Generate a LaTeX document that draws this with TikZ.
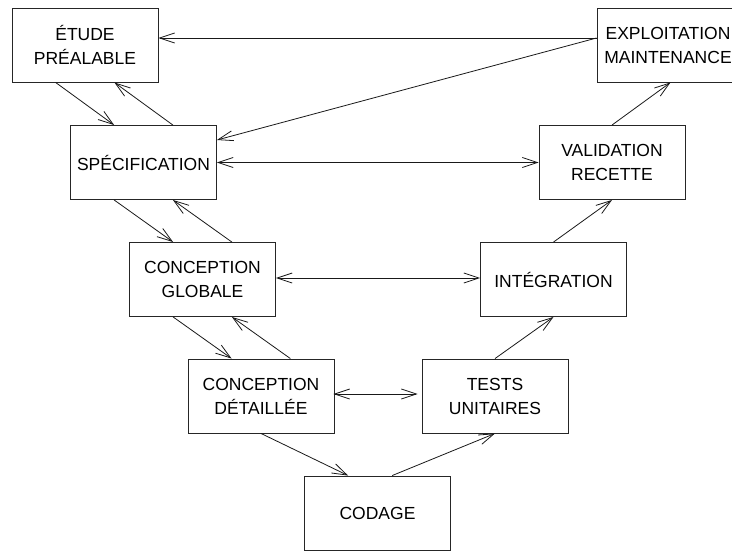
\documentclass[tikz,border=0pt]{standalone}
\usepackage{fontspec}
\setmainfont{Liberation Sans}
\usetikzlibrary{arrows.meta,calc}
\begin{document}
\begin{tikzpicture}[x=1pt,y=-1pt,
  phase/.style={draw=black!85, line width=0.9pt, minimum width=146pt, minimum height=74pt,
    inner sep=0pt, align=center, font=\fontsize{17.5pt}{24pt}\selectfont},
  arr/.style={draw=black!90, line width=0.8pt, -{Straight Barb[length=15pt,width=10pt,line width=0.8pt]}},
  darr/.style={draw=black!90, line width=0.8pt, {Straight Barb[length=15pt,width=10pt,line width=0.8pt]}-{Straight Barb[length=15pt,width=10pt,line width=0.8pt]}}]
\useasboundingbox (0,0) rectangle (732,550);
\node[phase] (etude) at (85,45) {ÉTUDE\\PRÉALABLE};
\node[phase, minimum width=147pt] (expl) at (670.5,45) {\hspace*{-5pt}EXPLOITATION\\\hspace*{-5pt}MAINTENANCE};
\node[phase] (spec) at (143.5,162.5) {SPÉCIFICATION};
\node[phase] (valid) at (612,162.5) {VALIDATION\\RECETTE};
\node[phase] (cglob) at (202.5,279.5) {CONCEPTION\\GLOBALE};
\node[phase] (integ) at (553.5,279.5) {INTÉGRATION};
\node[phase] (cdet) at (261,396) {CONCEPTION\\DÉTAILLÉE};
\node[phase] (tests) at (495,396) {TESTS\\UNITAIRES};
\node[phase] (codage) at (377.5,513) {CODAGE};
% descending side
\draw[arr] ($(etude.south west)!0.3!(etude.south east)$) -- ($(spec.north west)!0.3!(spec.north east)$);
\draw[arr] ($(spec.north west)!0.7!(spec.north east)$) -- ($(etude.south west)!0.7!(etude.south east)$);
\draw[arr] ($(spec.south west)!0.3!(spec.south east)$) -- ($(cglob.north west)!0.3!(cglob.north east)$);
\draw[arr] ($(cglob.north west)!0.7!(cglob.north east)$) -- ($(spec.south west)!0.7!(spec.south east)$);
\draw[arr] ($(cglob.south west)!0.3!(cglob.south east)$) -- ($(cdet.north west)!0.3!(cdet.north east)$);
\draw[arr] ($(cdet.north west)!0.7!(cdet.north east)$) -- ($(cglob.south west)!0.7!(cglob.south east)$);
\draw[arr] (cdet.south) -- ($(codage.north west)!0.3!(codage.north east)$);
% ascending side
\draw[arr] ($(codage.north west)!0.6!(codage.north east)$) -- (tests.south);
\draw[arr] (tests.north) -- (integ.south);
\draw[arr] (integ.north) -- (valid.south);
\draw[arr] (valid.north) -- (expl.south);
% feedback from exploitation
\coordinate (e1) at ($(expl.west)+(0,-7)$);
\draw[arr] (e1) -- (e1 -| etude.east);
\draw[arr] (e1) -- ($(spec.east)+(0,-22.5)$);
% horizontal correspondences
\draw[darr] (spec.east) -- (valid.west);
\draw[darr] ($(cglob.east)+(0,-1.5)$) -- ($(integ.west)+(0,-1.5)$);
\draw[darr, shorten <=-1pt, shorten >=4pt] ($(cdet.east)+(0,-2)$) -- ($(tests.west)+(0,-2)$);
\end{tikzpicture}
\end{document}
